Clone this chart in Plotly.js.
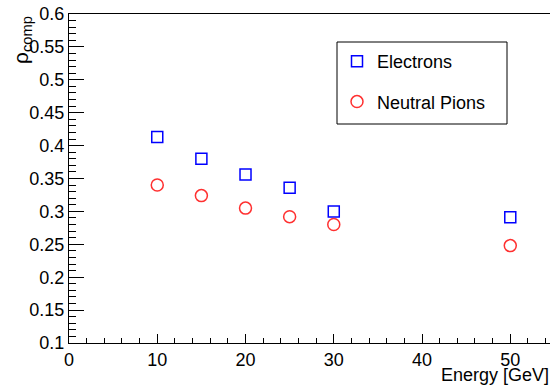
<!DOCTYPE html>
<html><head><meta charset="utf-8">
<script src="https://cdn.plot.ly/plotly-3.0.1.min.js"></script>
<style>html,body{margin:0;padding:0;background:#fff}#c{width:551px;height:387px}</style>
</head><body><div id="c"></div>
<script>
const energy = [10, 15, 20, 25, 30, 50];
const electrons = [0.413, 0.380, 0.356, 0.336, 0.300, 0.291];
const pions = [0.340, 0.324, 0.305, 0.292, 0.280, 0.248];
const seriesNames = ['Electrons', 'Neutral Pions'];
const xTitle = 'Energy [GeV]';
const yTitle = 'ρ<sub>comp</sub>';

const F = 'Liberation Sans, Arial, Helvetica, sans-serif';
const traces = [
  {x: energy, y: electrons, name: seriesNames[0], mode: 'markers', type: 'scatter', legendgroup: 'a',
   marker: {symbol: 'square-open', size: 11, color: '#0000ff', line: {width: 1.5}}},
  {x: energy, y: pions, name: seriesNames[1], mode: 'markers', type: 'scatter', legendgroup: 'b',
   marker: {symbol: 'circle-open', size: 12, color: '#ff3030', line: {width: 1.5}}}
];
const layout = {
  width: 551, height: 387,
  margin: {l: 69, r: 1, t: 14, b: 44},
  paper_bgcolor: '#fff', plot_bgcolor: '#fff',
  font: {family: F, size: 18, color: '#000'},
  showlegend: true,
  legend: {x: (337-69)/481, xanchor: 'left', y: 1-(43-14)/329, yanchor: 'top',
           bgcolor: 'rgba(0,0,0,0)', borderwidth: 0, font: {family: F, size: 18},
           tracegroupgap: 14, traceorder: 'grouped'},
  xaxis: {range: [0, 54.5], showgrid: false, zeroline: false, showline: true, linecolor: '#000', linewidth: 1,
          mirror: true, ticks: 'inside', ticklen: 9, tickcolor: '#000', dtick: 10, tick0: 0,
          minor: {dtick: 2, ticks: 'inside', ticklen: 5, tickcolor: '#000', showgrid: false},
          tickfont: {family: F, size: 18}},
  yaxis: {range: [0.1, 0.6], showgrid: false, zeroline: false, showline: true, linecolor: '#000', linewidth: 1,
          ticks: 'inside', ticklen: 15, tickcolor: '#000', dtick: 0.05, tick0: 0.1,
          minor: {dtick: 0.01, ticks: 'inside', ticklen: 7, tickcolor: '#000', showgrid: false},
          tickfont: {family: F, size: 18}},
  shapes: [
    {type: 'rect', xref: 'paper', yref: 'paper', x0: (337-69)/481, x1: (507-69)/481,
     y0: 1-(124-14)/329, y1: 1-(42-14)/329, line: {color: '#000', width: 1}}
  ],
  annotations: [
    {text: xTitle, xref: 'paper', yref: 'paper', x: 1.002, y: -(375-343)/329, xanchor: 'right', yanchor: 'middle',
     showarrow: false, font: {family: F, size: 18}},
    {text: yTitle, xref: 'paper', yref: 'paper', x: -(69-22)/481, y: 1-(40-14)/329, xanchor: 'center', yanchor: 'middle',
     textangle: -90, showarrow: false, font: {family: F, size: 21}}
  ]
};
Plotly.newPlot('c', traces, layout, {displayModeBar: false, staticPlot: true});
</script></body></html>
